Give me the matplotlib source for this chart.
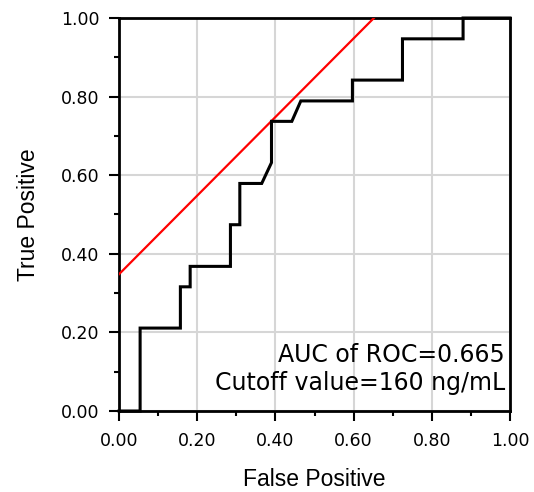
import matplotlib
matplotlib.use("Agg")
import matplotlib.pyplot as plt
from matplotlib.ticker import MultipleLocator

# ROC curve vertices
fpr = [0.0, 0.054, 0.054, 0.157, 0.157, 0.182, 0.182, 0.285, 0.285, 0.309, 0.309,
       0.365, 0.39, 0.39, 0.442, 0.465, 0.597, 0.597, 0.725, 0.725, 0.88, 0.88, 1.0]
tpr = [0.0, 0.0, 0.211, 0.211, 0.316, 0.316, 0.368, 0.368, 0.474, 0.474, 0.579,
       0.579, 0.632, 0.737, 0.737, 0.789, 0.789, 0.842, 0.842, 0.947, 0.947, 1.0, 1.0]

# tangent line at the cutoff
tangent_x = [0.0, 0.652]
tangent_y = [0.348, 1.0]

tick_vals = [0.0, 0.2, 0.4, 0.6, 0.8, 1.0]
tick_labels = ["0.00", "0.20", "0.40", "0.60", "0.80", "1.00"]
notes = ["AUC of ROC=0.665", "Cutoff value=160 ng/mL"]

fig = plt.figure(figsize=(5.34, 4.92), dpi=100)
ax = fig.add_axes([119 / 534, 81 / 492, 391 / 534, 393 / 492])

ax.grid(True, color="#d6d6d6", linewidth=1.5, zorder=0)
ax.plot(tangent_x, tangent_y, color="#ff0000", linewidth=1.6, zorder=3)
ax.plot(fpr, tpr, color="black", linewidth=2.2, zorder=4, clip_on=False,
        solid_joinstyle="miter")

ax.set_xlim(0, 1)
ax.set_ylim(0, 1)
ax.set_xticks(tick_vals)
ax.set_xticklabels(tick_labels)
ax.set_yticks(tick_vals)
ax.set_yticklabels(tick_labels)
ax.xaxis.set_minor_locator(MultipleLocator(0.1))
ax.yaxis.set_minor_locator(MultipleLocator(0.1))
ax.tick_params(which="major", direction="out", length=7, width=1.5,
               labelsize=12.5)
ax.tick_params(axis="y", which="major", pad=7)
ax.tick_params(axis="x", which="major", pad=8)
ax.tick_params(which="minor", direction="out", length=3.5, width=1.5)
for lbl in ax.get_xticklabels() + ax.get_yticklabels():
    lbl.set_family("DejaVu Sans")

for s in ax.spines.values():
    s.set_linewidth(2)

ax.set_xlabel("False Positive", fontsize=16.5, family="Liberation Sans", labelpad=13)
ax.set_ylabel("True Positive", fontsize=16.5, family="Liberation Sans", labelpad=15)

ax.text(0.987, 0.1425, notes[0], transform=ax.transAxes, ha="right", va="center",
        fontsize=17, family="DejaVu Sans")
ax.text(0.987, 0.071, notes[1], transform=ax.transAxes, ha="right", va="center",
        fontsize=17, family="DejaVu Sans")

fig.savefig("out.png", dpi=100)
